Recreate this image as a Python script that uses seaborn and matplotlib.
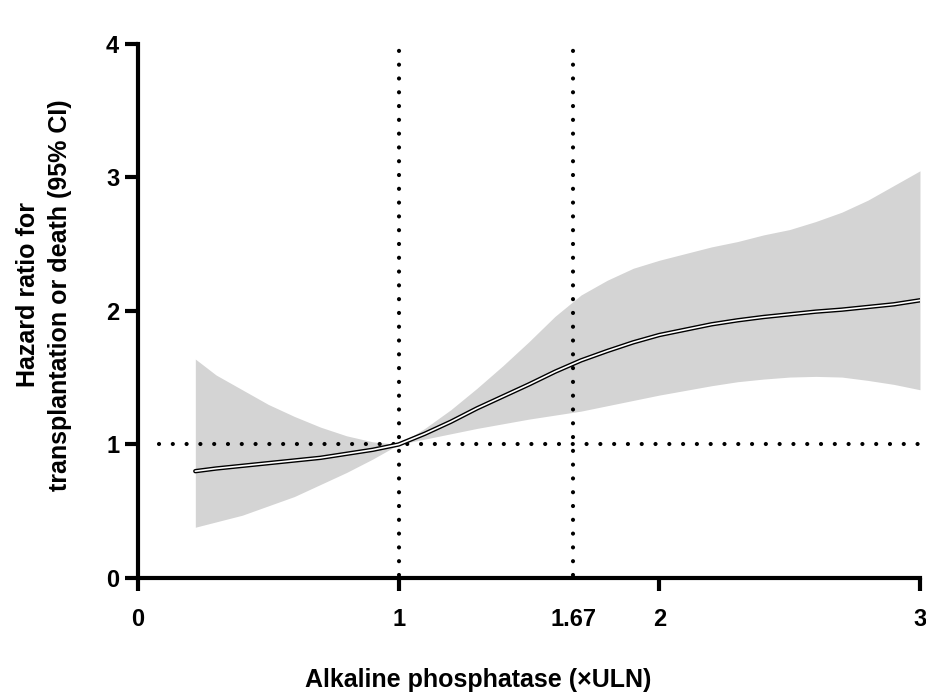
import numpy as np
import pandas as pd
import seaborn as sns
import matplotlib.pyplot as plt

# values
alp = [0.22, 0.3, 0.4, 0.5, 0.6, 0.7, 0.8, 0.9, 1.0, 1.1, 1.2, 1.3, 1.4,
       1.5, 1.6, 1.7, 1.8, 1.9, 2.0, 2.1, 2.2, 2.3, 2.4, 2.5, 2.6, 2.7,
       2.8, 2.9, 3.0]
hr = [0.80, 0.82, 0.84, 0.86, 0.88, 0.90, 0.93, 0.96, 1.00, 1.08, 1.17,
      1.27, 1.36, 1.45, 1.545, 1.63, 1.70, 1.765, 1.82, 1.86, 1.90, 1.93,
      1.955, 1.975, 1.995, 2.01, 2.03, 2.05, 2.08]
ci_upper = [1.64, 1.52, 1.41, 1.30, 1.21, 1.13, 1.065, 1.02, 1.00, 1.12,
            1.26, 1.42, 1.59, 1.77, 1.96, 2.12, 2.23, 2.32, 2.38, 2.43,
            2.48, 2.52, 2.57, 2.61, 2.67, 2.74, 2.83, 2.94, 3.05]
ci_lower = [0.38, 0.42, 0.47, 0.54, 0.61, 0.70, 0.79, 0.89, 1.00, 1.04,
            1.08, 1.12, 1.155, 1.19, 1.22, 1.25, 1.29, 1.33, 1.37, 1.405,
            1.44, 1.47, 1.49, 1.505, 1.51, 1.505, 1.48, 1.45, 1.41]
x_ticks = [0, 1, 1.67, 2, 3]
x_ticklabels = ['0', '1', '1.67', '2', '3']
y_ticks = [0, 1, 2, 3, 4]
ref_x = [1, 1.67]
ref_y = 1

df = pd.DataFrame({'alp': alp, 'hr': hr, 'lo': ci_lower, 'hi': ci_upper})

sns.set_style('ticks')
plt.rcParams['font.family'] = ['Liberation Sans', 'DejaVu Sans']
plt.rcParams['font.weight'] = 'bold'

fig = plt.figure(figsize=(9.26, 6.93), dpi=100)
ax = fig.add_axes([0.149, 0.166, 0.8445, 0.7705])

# confidence band
ax.fill_between(df['alp'], df['lo'], df['hi'], color='#d4d4d4', lw=0, zorder=1)

# reference lines
dots = dict(color='black', lw=3, linestyle=(0, (0.01, 3.3)),
            dash_capstyle='round', zorder=2, clip_on=False)
for xv in ref_x:
    ax.plot([xv, xv], [0.02, 4], **dots)
ax.plot([0.08, 3], [ref_y, ref_y], **dots)

# double line: black outline with white core
sns.lineplot(data=df, x='alp', y='hr', color='black', lw=3.2, ax=ax,
             zorder=3, solid_capstyle='round', solid_joinstyle='round')
sns.lineplot(data=df, x='alp', y='hr', color='white', lw=1.2, ax=ax,
             zorder=4, solid_capstyle='round', solid_joinstyle='round')

ax.set_xlim(0, 3)
ax.set_ylim(0, 4)
sns.despine(ax=ax)
for s in ['left', 'bottom']:
    ax.spines[s].set_linewidth(3)
    ax.spines[s].set_color('black')
    ax.spines[s].set_capstyle('projecting')

ax.set_yticks(y_ticks)
ax.set_xticks(x_ticks)
ax.set_xticklabels(x_ticklabels)
ax.tick_params(axis='both', length=9.5, width=3, direction='out',
               labelsize=17, color='black', labelcolor='black')
ax.tick_params(axis='x', pad=12)
ax.tick_params(axis='y', pad=4)
ax.xaxis.get_major_ticks()[2].tick1line.set_visible(False)

ax.set_xlabel('Alkaline phosphatase (\u00d7ULN)', fontsize=18,
              fontweight='bold', color='black')
ax.xaxis.label.set_va('center')
ax.xaxis.set_label_coords(0.435, -0.191)
ax.set_ylabel('Hazard ratio for\ntransplantation or death (95% CI)',
              fontsize=18, fontweight='bold', linespacing=1.45, color='black')
ax.yaxis.label.set_va('center')
ax.yaxis.set_label_coords(-0.120, 0.53)

plt.savefig('out.png', dpi=100)
